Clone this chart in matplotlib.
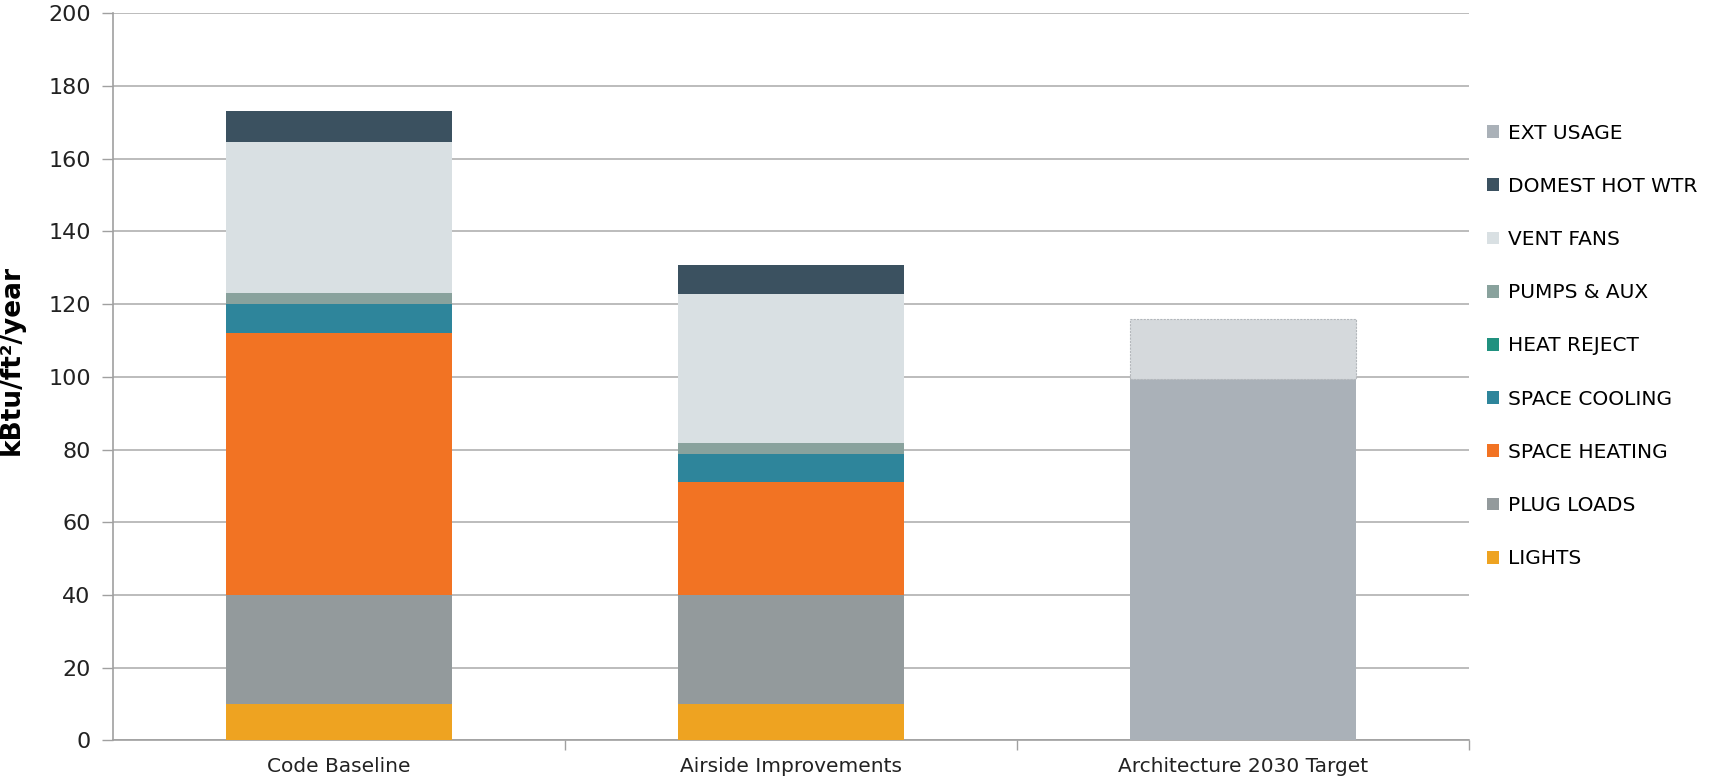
import numpy as np
import matplotlib.pyplot as plt

categories = ["Code Baseline", "Airside Improvements", "Architecture 2030 Target"]

# stacked end-uses, kBtu/ft2/year
lights = [10, 10, 0]
plug_loads = [30, 30, 0]
space_heating = [72, 31, 0]
space_cooling = [8, 7.8, 0]
heat_reject = [0, 0, 0]
pumps_aux = [3, 3, 0]
vent_fans = [41.5, 41, 0]
domest_hot_wtr = [8.5, 8, 0]
ext_usage = [0, 0, 99.5]
target_margin = [0, 0, 16.5]

series = [
    ("LIGHTS", lights, "#eea321"),
    ("PLUG LOADS", plug_loads, "#939a9c"),
    ("SPACE HEATING", space_heating, "#f27323"),
    ("SPACE COOLING", space_cooling, "#2e859b"),
    ("HEAT REJECT", heat_reject, "#20917f"),
    ("PUMPS & AUX", pumps_aux, "#89a29d"),
    ("VENT FANS", vent_fans, "#d9e0e3"),
    ("DOMEST HOT WTR", domest_hot_wtr, "#3b5160"),
    ("EXT USAGE", ext_usage, "#aab1b8"),
]

fig = plt.figure(figsize=(17.19, 7.81), dpi=100)
ax = fig.add_axes([0.0657, 0.052, 0.789, 0.931])

x = np.arange(len(categories))
bottom = np.zeros(len(categories))
handles = []
for name, vals, col in series:
    vals = np.array(vals, dtype=float)
    h = ax.bar(x, vals, 0.5, bottom=bottom, color=col, label=name,
               edgecolor="none", zorder=3)
    handles.append(h)
    bottom += vals

# target range on top of the 2030 bar (only where there is one)
tm = np.array(target_margin, dtype=float)
keep = tm > 0
ax.bar(x[keep], tm[keep], 0.5, bottom=bottom[keep], color="#d5d9dc",
       edgecolor="#b3b7bb", linestyle=(0, (2, 1)), linewidth=0.8, zorder=3)

ax.set_xlim(-0.5, 2.5)
ax.set_ylim(0, 200)
ax.set_yticks(np.arange(0, 201, 20))
ax.yaxis.grid(True, color="#b0b0b0", linewidth=1.2, zorder=0)
ax.set_axisbelow(True)

ax.set_xticks(x)
ax.set_xticklabels(categories, fontsize=14.5, color="#222222")
ax.set_xticks([0.5, 1.5, 2.5], minor=True)
ax.tick_params(axis="x", which="major", length=0, pad=12)
ax.tick_params(axis="x", which="minor", length=7, color="#a0a0a0", width=1)
ax.tick_params(axis="y", length=8, color="#a0a0a0", width=1,
               labelsize=16, labelcolor="#222222", pad=8)

for s in ["top", "right"]:
    ax.spines[s].set_visible(False)
for s in ["left", "bottom"]:
    ax.spines[s].set_color("#a0a0a0")
    ax.spines[s].set_linewidth(1.2)

ax.set_ylabel("kBtu/ft\u00b2/year", fontsize=19, fontweight="bold")
ax.yaxis.set_label_coords(-0.065, 0.523)

fig.legend(handles[::-1], [s[0] for s in series][::-1],
           loc="center left", bbox_to_anchor=(0.865, 0.557),
           frameon=False, fontsize=14.5, labelspacing=1.7,
           handlelength=0.6, handleheight=0.6, handletextpad=0.45,
           borderpad=0, borderaxespad=0)

fig.savefig("out.png", dpi=100)
